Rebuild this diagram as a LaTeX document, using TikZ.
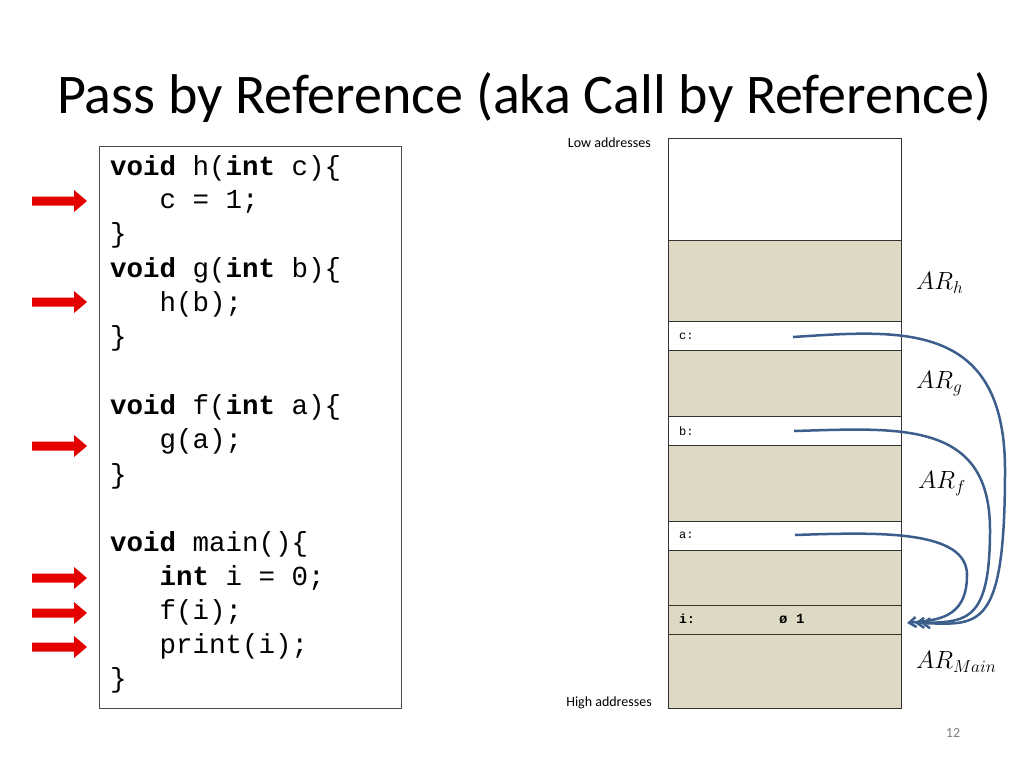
\documentclass[tikz,border=0pt]{standalone}
\usepackage{fontspec}
\setmainfont{Carlito}
\newfontfamily\codefont{Liberation Mono}
\usetikzlibrary{arrows.meta}
\definecolor{memgray}{RGB}{221,217,196}
\definecolor{arrblue}{RGB}{59,94,140}
\tikzset{
  code/.style={anchor=west,font=\codefont\fontsize{27.5}{27.5}\selectfont,inner sep=0pt},
  cell/.style={draw=black!80,line width=0.8pt},
  redarr/.style={draw=none,fill=red!90!black},
  lbl/.style={anchor=west,font=\fontsize{24}{24}\selectfont,inner sep=0pt},
  ptr/.style={draw=arrblue,line width=2.5pt,-{Straight Barb[length=7pt,width=10pt]}},
  small/.style={font=\fontsize{14}{14}\selectfont,inner sep=0pt}
}
\begin{document}
\begin{tikzpicture}[x=1pt,y=-1pt]
\useasboundingbox (0,0) rectangle (1024,768);
\node[anchor=west,inner sep=0pt,font=\fontsize{56}{56}\selectfont] (title) at (57,98) {Pass by Reference (aka Call by Reference)};
% code box
\draw[draw=black!70,line width=0.8pt] (99,146) rectangle (401,708);
\foreach \y/\t in {168/{\textbf{void} h(\textbf{int} c)\{},202/{\ \ \ c = 1;},235/{\}},270/{\textbf{void} g(\textbf{int} b)\{},304/{\ \ \ h(b);},338/{\}},407/{\textbf{void} f(\textbf{int} a)\{},441/{\ \ \ g(a);},476/{\}},544/{\textbf{void} main()\{},578/{\ \ \ \textbf{int} i = 0;},612/{\ \ \ f(i);},646/{\ \ \ print(i);},680/{\}}}
  \node[code] at (110,\y) {\t};
% red arrows
\foreach \y in {201,302,446,578,613,647}
  \fill[redarr] (32,\y-4.5) -- (74,\y-4.5) -- (74,\y-11) -- (87,\y) -- (74,\y+11) -- (74,\y+4.5) -- (32,\y+4.5) -- cycle;
% memory
\draw[cell,fill=white] (668,138) rectangle (901,240);
\draw[cell,fill=memgray] (668,240) rectangle (901,321);
\draw[cell,fill=white] (668,321) rectangle (901,350);
\draw[cell,fill=memgray] (668,350) rectangle (901,416);
\draw[cell,fill=white] (668,416) rectangle (901,445);
\draw[cell,fill=memgray] (668,445) rectangle (901,521);
\draw[cell,fill=white] (668,521) rectangle (901,550);
\draw[cell,fill=memgray] (668,550) rectangle (901,605);
\draw[cell,fill=memgray] (668,605) rectangle (901,634);
\draw[cell,fill=memgray] (668,634) rectangle (901,708);
\node[small,anchor=east] (low) at (651,143) {Low addresses};
\node[small,anchor=east] (high) at (652,703) {High addresses};
\node[anchor=west,inner sep=0pt,font=\codefont\fontsize{12}{12}\selectfont] (cc) at (679,336) {c:};
\node[anchor=west,inner sep=0pt,font=\codefont\fontsize{12}{12}\selectfont] (bb) at (679,431) {b:};
\node[anchor=west,inner sep=0pt,font=\codefont\fontsize{12}{12}\selectfont] (aa) at (679,535) {a:};
\node[anchor=west,inner sep=0pt,font=\codefont\bfseries\fontsize{13}{13}\selectfont] (ii) at (679,619) {i:};
\node[anchor=west,inner sep=0pt,font=\codefont\bfseries\fontsize{14}{14}\selectfont] (iv) at (779,619) {ø 1};
\node[lbl] (arh) at (916,283) {$AR_h$};
\node[lbl] (arg) at (916,384) {$AR_g$};
\node[lbl] (arf) at (918,484) {$AR_f$};
\node[lbl] (arm) at (916,662) {$AR_{Main}$};
\coordinate (cs) at (793,337);
\coordinate (bs) at (794,431);
\coordinate (as) at (795,535);
\coordinate (ce) at (921,623);
\coordinate (be) at (915,623);
\coordinate (ae) at (907,623);
\draw[ptr] (cs) .. controls (900,330) and (1005,320) .. (1005,470) .. controls (1005,630) and (980,625) .. (ce);
\draw[ptr] (bs) .. controls (900,428) and (990,420) .. (990,530) .. controls (990,625) and (965,622) .. (be);
\draw[ptr] (as) .. controls (880,532) and (967,530) .. (967,575) .. controls (967,620) and (935,620) .. (ae);
\node[small,text=black!50] (pg) at (953,733) {12};
\end{tikzpicture}
\end{document}
